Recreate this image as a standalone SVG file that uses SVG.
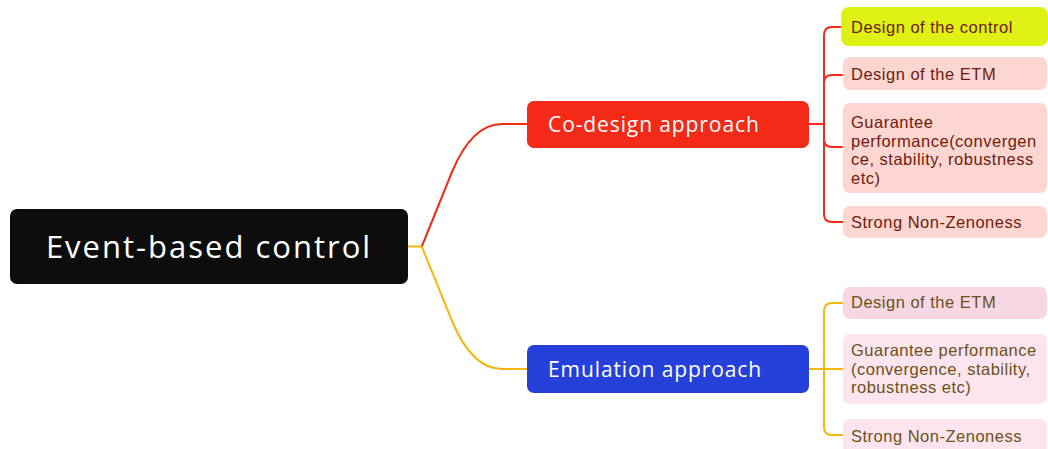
<svg xmlns="http://www.w3.org/2000/svg" width="1048" height="449" viewBox="0 0 1048 449">
<style>
.c{fill:none;stroke-width:2;stroke-linecap:round;stroke-linejoin:round}
.r{stroke:#F22A17}
.y{stroke:#F4B70F}
.t{font-family:"Liberation Sans",Arial,sans-serif;font-size:16.5px;letter-spacing:0.5px}
.tr{fill:#6E1B0E}
.ty{fill:#6B5018}
.m{font-family:"Open Sans","Liberation Sans",sans-serif;font-size:21px;letter-spacing:0.9px;fill:#fff}
</style>
<rect width="1048" height="449" fill="#fff"/>
<g id="connectors">
<path class="c y" d="M408,246.5 H422"/>
<path class="c r" d="M422,246 L452,172 Q472,124 502,124 H527"/>
<path class="c y" d="M422,247 L452,321 Q472,369 502,369 H527"/>
<path class="c r" d="M809,124 H824"/>
<path class="c r" d="M843,27 H832 Q824,27 824,35 V214 Q824,222 832,222 H843"/>
<path class="c r" d="M824,83 Q824,75 832,75 H843"/>
<path class="c r" d="M824,139 Q824,147 832,147 H843"/>
<path class="c y" d="M809,369 H843"/>
<path class="c y" d="M843,303 H832 Q824,303 824,311 V427 Q824,435 832,435 H843"/>
</g>
<g id="root">
<rect x="10" y="209" width="398" height="75" rx="7" fill="#0D0D0D"/>
<text x="209" y="258" text-anchor="middle" font-family="'Open Sans','Liberation Sans',sans-serif" font-size="31" letter-spacing="2" fill="#fff">Event-based control</text>
</g>
<g id="codesign">
<rect x="527" y="101" width="282" height="47" rx="7" fill="#F22A17"/>
<text class="m" x="548" y="132">Co-design approach</text>
</g>
<g id="emulation">
<rect x="527" y="345" width="282" height="48" rx="7" fill="#2541DA"/>
<text class="m" x="548" y="377">Emulation approach</text>
</g>
<g id="c1">
<rect x="841" y="7" width="207" height="39" rx="8" fill="#DEF014"/>
<text class="t tr" x="851" y="33">Design of the control</text>
</g>
<g id="c2">
<rect x="843" y="57" width="204" height="33" rx="7" fill="#FDD5D1"/>
<text class="t tr" x="851" y="80">Design of the ETM</text>
</g>
<g id="c3">
<rect x="843" y="103" width="204" height="90" rx="7" fill="#FDD5D1"/>
<text class="t tr" x="851" y="128">Guarantee</text>
<text class="t tr" x="851" y="146.5">performance(convergen</text>
<text class="t tr" x="851" y="165">ce, stability, robustness</text>
<text class="t tr" x="851" y="183.5">etc)</text>
</g>
<g id="c4">
<rect x="843" y="206" width="204" height="32" rx="7" fill="#FDD5D1"/>
<text class="t tr" x="851" y="228">Strong Non-Zenoness</text>
</g>
<g id="e1">
<rect x="843" y="287" width="204" height="32" rx="7" fill="#F8D7E4"/>
<text class="t ty" x="851" y="308">Design of the ETM</text>
</g>
<g id="e2">
<rect x="843" y="334" width="204" height="70" rx="7" fill="#FCE5EE"/>
<text class="t ty" x="851" y="356">Guarantee performance</text>
<text class="t ty" x="851" y="374.5">(convergence, stability,</text>
<text class="t ty" x="851" y="393">robustness etc)</text>
</g>
<g id="e3">
<rect x="843" y="419" width="204" height="40" rx="7" fill="#FCE5EE"/>
<text class="t ty" x="851" y="442">Strong Non-Zenoness</text>
</g>
</svg>
